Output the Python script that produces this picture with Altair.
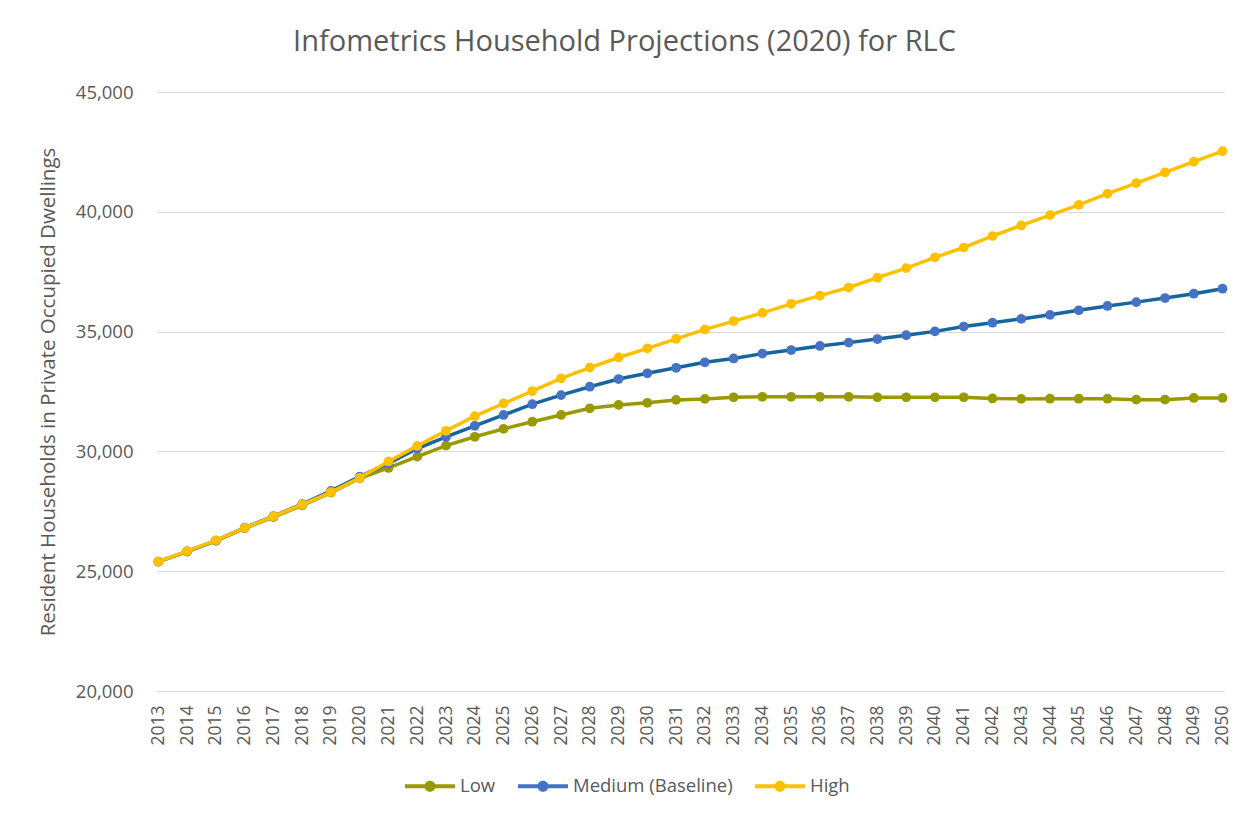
import altair as alt
import pandas as pd

years = list(range(2013, 2051))

low = [25400, 25820, 26270, 26790, 27260, 27750, 28280, 28880, 29310, 29780,
       30240, 30610, 30940, 31240, 31520, 31800, 31940, 32030, 32150, 32190,
       32260, 32280, 32280, 32280, 32280, 32260, 32260, 32260, 32260, 32210,
       32190, 32200, 32200, 32200, 32160, 32160, 32230, 32230]

medium = [25400, 25830, 26280, 26820, 27300, 27800, 28350, 28950, 29500, 30120,
          30610, 31070, 31520, 31970, 32350, 32700, 33020, 33260, 33490, 33720,
          33880, 34080, 34230, 34400, 34540, 34690, 34850, 35010, 35210, 35370,
          35530, 35700, 35890, 36070, 36230, 36400, 36580, 36790]

high = [25400, 25840, 26290, 26810, 27290, 27780, 28300, 28900, 29580, 30230,
        30860, 31470, 32000, 32520, 33050, 33500, 33920, 34300, 34700, 35090,
        35440, 35780, 36160, 36500, 36840, 37250, 37650, 38100, 38510, 38990,
        39430, 39860, 40290, 40760, 41200, 41650, 42090, 42530]

series_names = ["Low", "Medium (Baseline)", "High"]
line_colors = ["#999900", "#16659E", "#FFC000"]
marker_colors = ["#999900", "#4472C4", "#FFC000"]

rows = []
for name, vals in zip(series_names, [low, medium, high]):
    for y, v in zip(years, vals):
        rows.append({"Year": str(y), "Value": v, "Series": name})
df = pd.DataFrame(rows)

font = "Open Sans"
grey = "#595959"

x_enc = alt.X("Year:O", scale=alt.Scale(type="point", padding=0.05),
              axis=alt.Axis(title=None, labelAngle=-90, labelFontSize=17.5,
                            labelColor=grey, labelFont=font, ticks=False, grid=False,
                            labelPadding=14, domainColor="#d9d9d9",
                            labelBaseline="middle"))
y_enc = alt.Y("Value:Q", scale=alt.Scale(domain=[20000, 45000], nice=False, zero=False),
              axis=alt.Axis(title="Resident Households in Private Occupied Dwellings",
                            values=[20000, 25000, 30000, 35000, 40000, 45000],
                            format=",d", labelFontSize=18.5, labelColor=grey,
                            labelFont=font, ticks=False, domain=False,
                            gridColor="#d9d9d9", labelPadding=24,
                            titleFontSize=20.5, titleFont=font, titleColor=grey,
                            titleFontWeight="normal", titlePadding=17))

legend_path = ("M-1,-0.08H1V0.08H-1Z "
               "M-0.22,0A0.22,0.22 0 1,1 0.22,0A0.22,0.22 0 1,1 -0.22,0Z")

layers = []
for name, lc in zip(series_names, line_colors):
    base = alt.Chart(df).transform_filter(alt.datum.Series == name)
    line = base.mark_line(strokeWidth=3.5, color=lc).encode(x=x_enc, y=y_enc)
    pts = base.mark_point(filled=True, size=95, opacity=1).encode(
        x=x_enc, y=y_enc,
        color=alt.Color("Series:N",
                        scale=alt.Scale(domain=series_names, range=marker_colors),
                        legend=alt.Legend(title=None, orient="none", direction="horizontal",
                                          legendX=248, legendY=669,
                                          symbolType=legend_path, symbolSize=2500,
                                          symbolStrokeWidth=0, labelFontSize=18.5,
                                          labelColor=grey, labelFont=font,
                                          labelOffset=5, columnPadding=22)))
    layers += [line, pts]

chart = alt.layer(*layers).properties(
    width=1067, height=599,
    background="white",
    title=alt.TitleParams("Infometrics Household Projections (2020) for RLC",
                          fontSize=29, font=font, color=grey, fontWeight="normal",
                          anchor="middle", dx=-66, offset=26),
    padding={"left": 149, "top": 84, "right": 16, "bottom": 120},
    autosize=alt.AutoSizeParams(type="none"),
).configure_view(
    stroke=None, strokeWidth=0
).configure_axisX(
    grid=False
)

chart.save("out.html", embed_options={"renderer": "svg", "actions": False})
